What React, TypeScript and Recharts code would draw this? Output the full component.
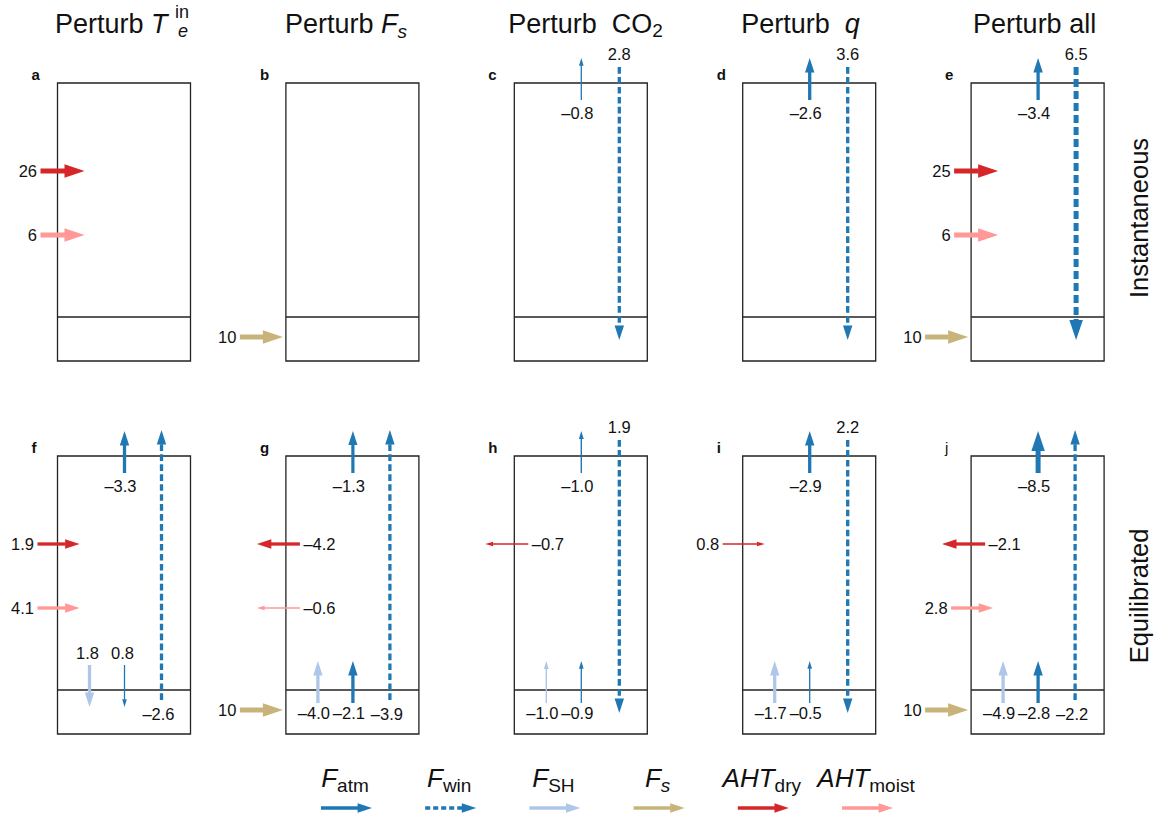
import React from 'react';
import { ComposedChart, XAxis, YAxis, ReferenceArea, ReferenceLine, ReferenceDot } from 'recharts';

const W = 1162;
const H = 818;
const FONT = '"Liberation Sans", Arial, Helvetica, sans-serif';

// ---------- data ----------
const panelLetters = ['a', 'b', 'c', 'd', 'e', 'f', 'g', 'h', 'i', 'j'];
const rowLabels = ['Instantaneous', 'Equilibrated'];

// Instantaneous row (panels a-e)
const instAHTdry: (number | null)[] = [26, null, null, null, 25];
const instAHTmoist: (number | null)[] = [6, null, null, null, 6];
const instFs: (number | null)[] = [null, 10, null, null, 10];
const instFatmTOA: (number | null)[] = [null, null, -0.8, -2.6, -3.4];
const instFwin: (number | null)[] = [null, null, 2.8, 3.6, 6.5];

// Equilibrated row (panels f-j)
const eqAHTdry: (number | null)[] = [1.9, -4.2, -0.7, 0.8, -2.1];
const eqAHTmoist: (number | null)[] = [4.1, -0.6, null, null, 2.8];
const eqFs: (number | null)[] = [null, 10, null, null, 10];
const eqFatmTOA: (number | null)[] = [-3.3, -1.3, -1.0, -2.9, -8.5];
const eqFwin: (number | null)[] = [-2.6, -3.9, 1.9, 2.2, -2.2];
const eqFSH: (number | null)[] = [1.8, -4.0, -1.0, -1.7, -4.9];
const eqFatmSfc: (number | null)[] = [0.8, -2.1, -0.9, -0.5, -2.8];

const legendKinds = ['atmToa', 'win', 'sh', 'fs', 'dry', 'moist'];
const legendMain = ['F', 'F', 'F', 'F', 'AHT', 'AHT'];
const legendSub = ['atm', 'win', 'SH', 's', 'dry', 'moist'];

// ---------- styles / layout ----------
const COLORS: Record<string, string> = {
  atmToa: '#1f77b4',
  atmSfc: '#1f77b4',
  win: '#1f77b4',
  sh: '#aec7e8',
  fs: '#c8b47b',
  dry: '#d62728',
  moist: '#ff9896',
};

const X0 = 57.5;
const PITCH = 228.4;
const BOX_W = 133;
const BOX_H = 278;
const SPLIT = 234;
const ROW_TOP = [83, 456];
const TITLE_DX = [-2.5, -1, -6, -1.5, 2];
const boxLeft = (i: number) => X0 + i * PITCH;

const widthFor = (v: number) => {
  const a = Math.abs(v);
  if (a >= 5) return 5;
  return Math.max(1.3, Math.min(3.3, 1.4 + 6 * (a - 1)));
};

const fmt = (v: number, dec: number) => (v < 0 ? '\u2013' : '') + Math.abs(v).toFixed(dec);

type Geo = { tail: [number, number]; tip: [number, number]; label: [number, number]; anchor: string };

function geometry(kind: string, v: number, i: number, r: number): Geo {
  const x0 = boxLeft(i);
  const y0 = ROW_TOP[r];
  switch (kind) {
    case 'dry':
    case 'moist': {
      const y = y0 + (kind === 'dry' ? 88 : 152);
      if (v > 0) {
        const tx = x0 + (r === 0 ? -17 : -20);
        const hx = x0 + (r === 0 ? 27 : 22);
        return { tail: [tx, y], tip: [hx, y], label: [tx - 3.5, y + 5.5], anchor: 'end' };
      }
      return { tail: [x0 + 14, y], tip: [x0 - 29, y], label: [x0 + 17.5, y + 5.5], anchor: 'start' };
    }
    case 'fs': {
      const y = y0 + 254;
      return { tail: [x0 - 46, y], tip: [x0 - 3, y], label: [x0 - 49.5, y + 5.5], anchor: 'end' };
    }
    case 'atmToa': {
      const x = x0 + 67;
      return { tail: [x, y0 + 17], tip: [x, y0 - 25], label: [x - 4, y0 + 35.5], anchor: 'middle' };
    }
    case 'win': {
      const x = x0 + 105;
      if (v > 0) return { tail: [x, y0 - 16], tip: [x, y0 + 257], label: [x, y0 - 23], anchor: 'middle' };
      return { tail: [x - 1, y0 + 244], tip: [x - 1, y0 - 26], label: [x - 4, y0 + 263.5], anchor: 'middle' };
    }
    default: {
      const x = x0 + (kind === 'sh' ? 32 : 67);
      if (v > 0) return { tail: [x, y0 + 209], tip: [x, y0 + 251], label: [x - 2, y0 + 202.5], anchor: 'middle' };
      return { tail: [x, y0 + 247], tip: [x, y0 + 205], label: [x - 4, y0 + 262.5], anchor: 'middle' };
    }
  }
}

const SERIES = [
  { kind: 'dry', row: 0, values: instAHTdry, dec: 0 },
  { kind: 'moist', row: 0, values: instAHTmoist, dec: 0 },
  { kind: 'fs', row: 0, values: instFs, dec: 0 },
  { kind: 'atmToa', row: 0, values: instFatmTOA, dec: 1 },
  { kind: 'win', row: 0, values: instFwin, dec: 1 },
  { kind: 'dry', row: 1, values: eqAHTdry, dec: 1 },
  { kind: 'moist', row: 1, values: eqAHTmoist, dec: 1 },
  { kind: 'fs', row: 1, values: eqFs, dec: 0 },
  { kind: 'atmToa', row: 1, values: eqFatmTOA, dec: 1 },
  { kind: 'win', row: 1, values: eqFwin, dec: 1 },
  { kind: 'sh', row: 1, values: eqFSH, dec: 1 },
  { kind: 'atmSfc', row: 1, values: eqFatmSfc, dec: 1 },
];

function arrowShape(
  color: string,
  w: number,
  dashed: boolean,
  label: string | null,
  ldx: number,
  ldy: number,
  anchor: string,
  dash?: string
) {
  return (p: any) => {
    const x1 = Number(p.x1), y1 = Number(p.y1), x2 = Number(p.x2), y2 = Number(p.y2);
    const dx = x2 - x1, dy = y2 - y1;
    const L = Math.hypot(dx, dy) || 1;
    const ux = dx / L, uy = dy / L;
    const hl = 3.3 * w + 3.5;
    const hw = 2.4 * w + 1.5;
    const bx = x2 - ux * hl, by = y2 - uy * hl;
    const px = -uy, py = ux;
    return (
      <g>
        <line
          x1={x1}
          y1={y1}
          x2={bx + ux * 0.5}
          y2={by + uy * 0.5}
          stroke={color}
          strokeWidth={w}
          strokeDasharray={dashed ? dash || `${4 + 0.8 * w} ${2 + 0.4 * w}` : undefined}
        />
        <polygon
          points={`${x2},${y2} ${bx + (px * hw) / 2},${by + (py * hw) / 2} ${bx - (px * hw) / 2},${by - (py * hw) / 2}`}
          fill={color}
        />
        {label != null && (
          <text x={x1 + ldx} y={y1 + ldy} textAnchor={anchor as any} fontFamily={FONT} fontSize={16.5} fill="#111">
            {label}
          </text>
        )}
      </g>
    );
  };
}

function textDot(key: string, x: number, y: number, render: (cx: number, cy: number) => React.ReactElement) {
  return (
    <ReferenceDot
      key={key}
      x={x}
      y={y}
      r={0}
      ifOverflow="visible"
      shape={(p: any) => render(Number(p.cx), Number(p.cy))}
    />
  );
}

function titleContent(i: number, cx: number, cy: number) {
  const common = { fontFamily: FONT, fontSize: 27, fill: '#111' };
  if (i === 0) {
    return (
      <g>
        <text x={cx} y={cy} {...common}>
          Perturb <tspan fontStyle="italic">T</tspan>
        </text>
        <text x={cx + 120} y={cy - 14.5} {...common} fontSize={18}>
          in
        </text>
        <text x={cx + 123} y={cy + 4.5} {...common} fontSize={18} fontStyle="italic">
          e
        </text>
      </g>
    );
  }
  if (i === 1) {
    return (
      <text x={cx} y={cy} {...common}>
        Perturb <tspan fontStyle="italic">F</tspan>
        <tspan fontStyle="italic" fontSize={19} dy={5}>s</tspan>
      </text>
    );
  }
  if (i === 2) {
    return (
      <text x={cx} y={cy} {...common}>
        Perturb<tspan dx={15}>CO</tspan>
        <tspan fontSize={19} dy={4}>2</tspan>
      </text>
    );
  }
  if (i === 3) {
    return (
      <text x={cx} y={cy} {...common}>
        Perturb<tspan dx={15} fontStyle="italic">q</tspan>
      </text>
    );
  }
  return (
    <text x={cx} y={cy} {...common}>
      Perturb all
    </text>
  );
}

export default function App() {
  const elements: React.ReactElement[] = [];

  // Titles
  for (let i = 0; i < 5; i++) {
    elements.push(textDot(`title-${i}`, boxLeft(i) + TITLE_DX[i], 32.5, (cx, cy) => titleContent(i, cx, cy)));
  }

  // Row labels
  rowLabels.forEach((lab, r) => {
    elements.push(
      textDot(`row-${r}`, 1148, ROW_TOP[r] + BOX_H / 2 - (r === 0 ? 4 : -1), (cx, cy) => (
        <text
          x={cx}
          y={cy}
          transform={`rotate(-90 ${cx} ${cy})`}
          textAnchor="middle"
          fontFamily={FONT}
          fontSize={25.5}
          fill="#111"
        >
          {lab}
        </text>
      ))
    );
  });

  // Panel letters
  panelLetters.forEach((l, k) => {
    const i = k % 5;
    const r = Math.floor(k / 5);
    elements.push(
      textDot(`letter-${k}`, boxLeft(i) - 26, ROW_TOP[r] - 3, (cx, cy) => (
        <text x={cx} y={cy} fontFamily={FONT} fontSize={15} fontWeight={l === 'j' ? 'normal' : 'bold'} fill="#111">
          {l}
        </text>
      ))
    );
  });

  // Boxes
  const boxes: React.ReactElement[] = [];
  for (let r = 0; r < 2; r++) {
    for (let i = 0; i < 5; i++) {
      const x0 = boxLeft(i);
      const y0 = ROW_TOP[r];
      boxes.push(
        <ReferenceArea
          key={`box-${r}-${i}`}
          x1={x0}
          x2={x0 + BOX_W}
          y1={y0}
          y2={y0 + BOX_H}
          fill="none"
          fillOpacity={0}
          stroke="#222"
          strokeWidth={1.3}
          ifOverflow="visible"
        />
      );
      boxes.push(
        <ReferenceLine
          key={`div-${r}-${i}`}
          segment={[
            { x: x0, y: y0 + SPLIT },
            { x: x0 + BOX_W, y: y0 + SPLIT },
          ]}
          stroke="#222"
          strokeWidth={1.3}
          ifOverflow="visible"
        />
      );
    }
  }

  // Arrows
  const arrows: React.ReactElement[] = [];
  SERIES.forEach((s, si) => {
    s.values.forEach((v, i) => {
      if (v == null) return;
      const g = geometry(s.kind, v, i, s.row);
      const w = widthFor(v);
      arrows.push(
        <ReferenceLine
          key={`arr-${si}-${i}`}
          segment={[
            { x: g.tail[0], y: g.tail[1] },
            { x: g.tip[0], y: g.tip[1] },
          ]}
          ifOverflow="visible"
          shape={arrowShape(
            COLORS[s.kind],
            w,
            s.kind === 'win',
            fmt(v, s.dec),
            g.label[0] - g.tail[0],
            g.label[1] - g.tail[1],
            g.anchor
          )}
        />
      );
    });
  });

  // Legend
  const legend: React.ReactElement[] = [];
  legendKinds.forEach((kind, k) => {
    const xs = 321 + k * 104.2;
    const y = 808;
    legend.push(
      <ReferenceLine
        key={`leg-arr-${k}`}
        segment={[
          { x: xs, y },
          { x: xs + 51, y },
        ]}
        ifOverflow="visible"
        shape={arrowShape(COLORS[kind], 3.3, kind === 'win', null, 0, 0, 'start', '5 3')}
      />
    );
    legend.push(
      textDot(`leg-txt-${k}`, xs + 24, 787, (cx, cy) => (
        <text x={cx} y={cy} textAnchor="middle" fontFamily={FONT} fontSize={26} fill="#111">
          <tspan fontStyle="italic">{legendMain[k]}</tspan>
          <tspan fontSize={19} dy={5} fontStyle={legendSub[k] === 's' ? 'italic' : 'normal'}>
            {legendSub[k]}
          </tspan>
        </text>
      ))
    );
  });

  return (
    <div style={{ position: 'absolute', left: 0, top: 0, width: W, height: H, background: '#fff' }}>
      <ComposedChart width={W} height={H} margin={{ top: 0, right: 0, bottom: 0, left: 0 }}>
        <XAxis type="number" dataKey="x" domain={[0, W]} allowDataOverflow hide />
        <YAxis type="number" dataKey="y" domain={[0, H]} allowDataOverflow reversed hide />
        {boxes}
        {arrows}
        {legend}
        {elements}
      </ComposedChart>
    </div>
  );
}
